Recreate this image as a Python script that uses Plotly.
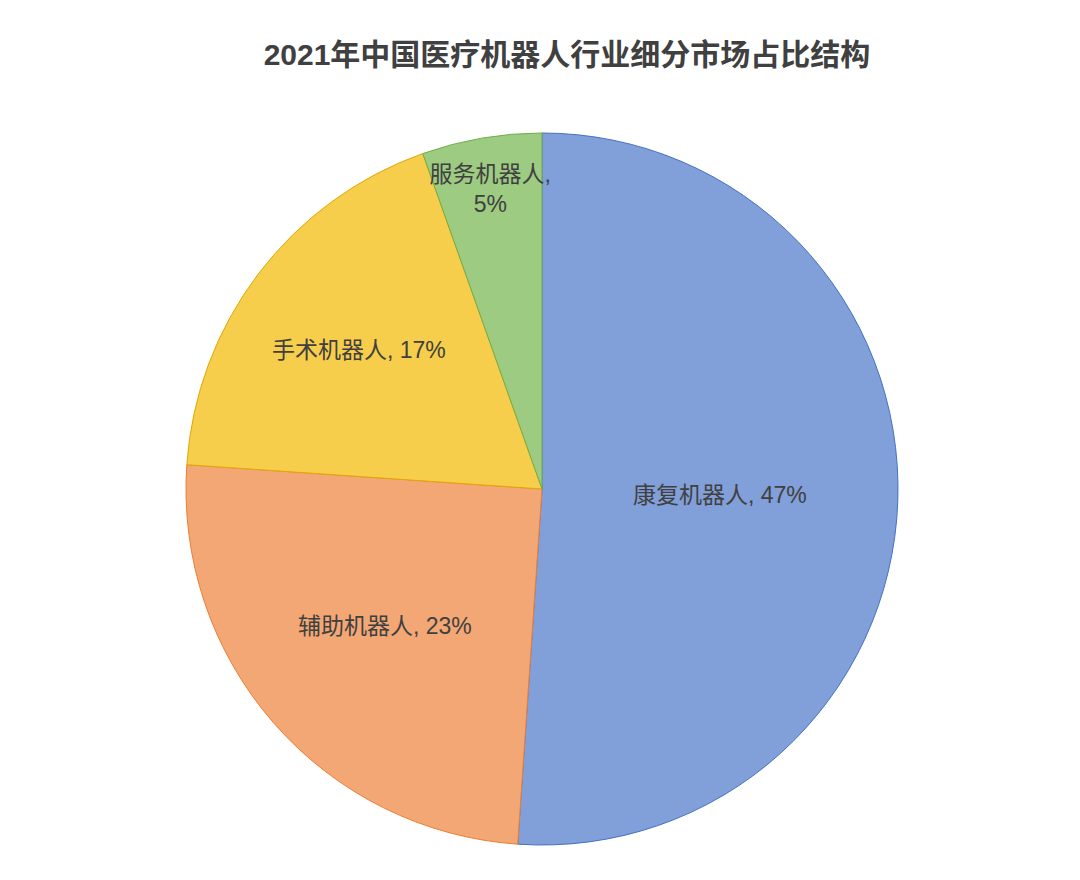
import plotly.graph_objects as go

title_text = "2021年中国医疗机器人行业细分市场占比结构"
labels = ["康复机器人", "辅助机器人", "手术机器人", "服务机器人"]
values = [47, 23, 17, 5]
templates = ["%{label}, %{value}%", "%{label}, %{value}%", "%{label}, %{value}%", "%{label},<br>%{value}%"]
fill_colors = ["#819FD8", "#F3A775", "#F7CE4C", "#9DCB82"]
edge_colors = ["#4472C4", "#ED7D31", "#E0A800", "#70AD47"]

font_family = "Liberation Sans, Noto Sans CJK SC, sans-serif"

fig = go.Figure(
    go.Pie(
        labels=labels,
        values=values,
        sort=False,
        direction="clockwise",
        rotation=0,
        texttemplate=templates,
        textposition="inside",
        insidetextorientation="horizontal",
        textfont=dict(family=font_family, size=23, color="#404040"),
        marker=dict(colors=fill_colors, line=dict(color=edge_colors, width=1)),
        showlegend=False,
        hoverinfo="label+value",
    )
)

fig.update_layout(
    width=1080,
    height=880,
    margin=dict(l=178, r=190, t=125, b=43),
    paper_bgcolor="white",
    plot_bgcolor="white",
    uniformtext=dict(minsize=23, mode="show"),
    title=dict(
        text="<b>" + title_text + "</b>",
        x=0.5176,
        xanchor="center",
        y=0.9466,
        yanchor="middle",
        font=dict(family=font_family, size=30, color="#404040"),
    ),
)

fig.write_html("out.html")
